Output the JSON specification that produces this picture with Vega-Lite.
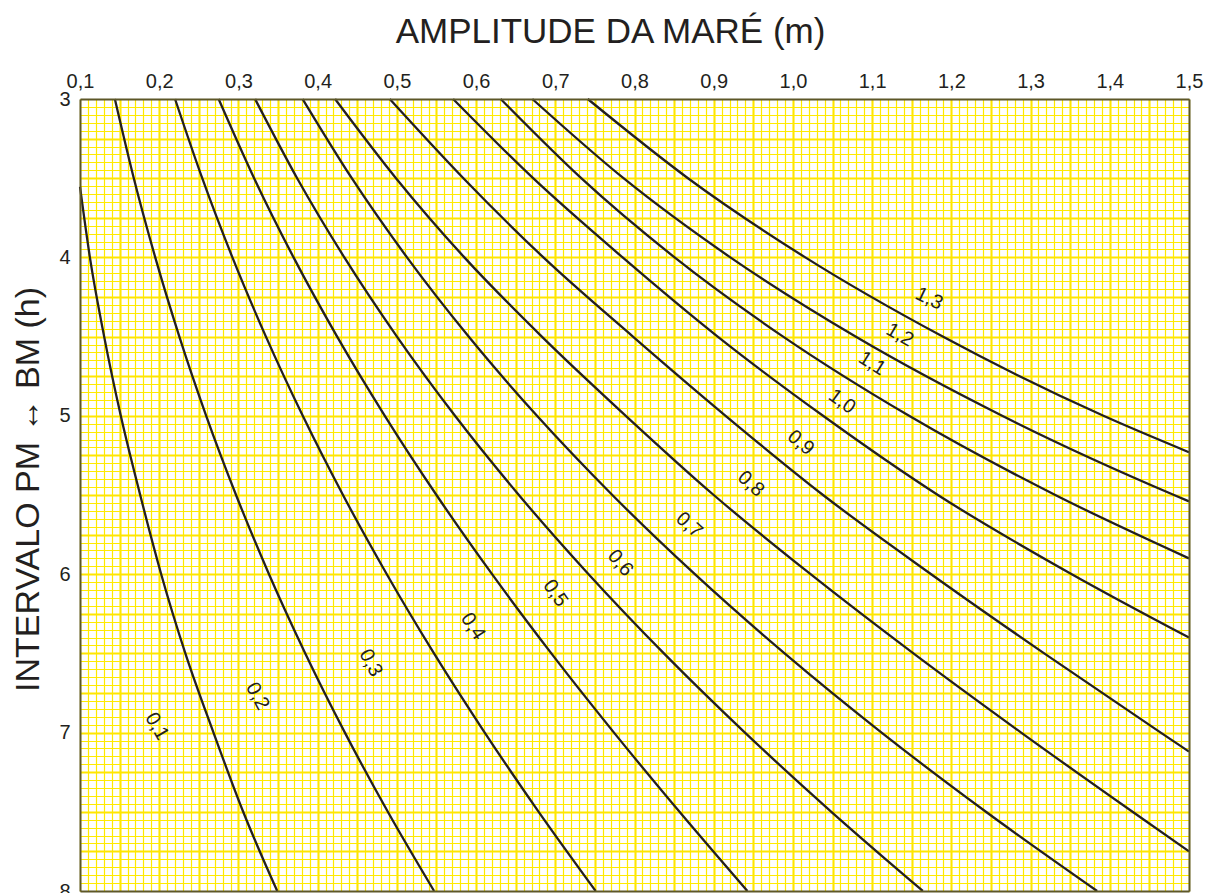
{
  "$schema": "https://vega.github.io/schema/vega-lite/v6.json",
  "width": 1109,
  "height": 792,
  "autosize": {"type": "none"},
  "padding": {"left": 80, "top": 99, "right": 18, "bottom": 2},
  "background": "white",
  "config": {"view": {"stroke": null}, "font": "Liberation Sans"},
  "datasets": {
    "curves": [
      {"curve": "b1", "T": 3.554, "A": 0.100}, {"curve": "b1", "T": 4.0, "A": 0.1125}, {"curve": "b1", "T": 4.5, "A": 0.1305}, {"curve": "b1", "T": 5.0, "A": 0.1515}, {"curve": "b1", "T": 5.5, "A": 0.176}, {"curve": "b1", "T": 6.0, "A": 0.2025}, {"curve": "b1", "T": 6.5, "A": 0.233}, {"curve": "b1", "T": 7.0, "A": 0.2685}, {"curve": "b1", "T": 7.5, "A": 0.306}, {"curve": "b1", "T": 8.0, "A": 0.349},
      {"curve": "b2", "T": 3.0, "A": 0.144}, {"curve": "b2", "T": 3.5, "A": 0.1679}, {"curve": "b2", "T": 4.0, "A": 0.195}, {"curve": "b2", "T": 4.5, "A": 0.2254}, {"curve": "b2", "T": 5.0, "A": 0.2593}, {"curve": "b2", "T": 5.5, "A": 0.297}, {"curve": "b2", "T": 6.0, "A": 0.3386}, {"curve": "b2", "T": 6.5, "A": 0.3844}, {"curve": "b2", "T": 7.0, "A": 0.4344}, {"curve": "b2", "T": 7.5, "A": 0.4886}, {"curve": "b2", "T": 8.0, "A": 0.547},
      {"curve": "b3", "T": 3.0, "A": 0.220}, {"curve": "b3", "T": 3.5, "A": 0.2543}, {"curve": "b3", "T": 4.0, "A": 0.2924}, {"curve": "b3", "T": 4.5, "A": 0.3347}, {"curve": "b3", "T": 5.0, "A": 0.3812}, {"curve": "b3", "T": 5.5, "A": 0.432}, {"curve": "b3", "T": 6.0, "A": 0.4873}, {"curve": "b3", "T": 6.5, "A": 0.5469}, {"curve": "b3", "T": 7.0, "A": 0.6109}, {"curve": "b3", "T": 7.5, "A": 0.679}, {"curve": "b3", "T": 8.0, "A": 0.751},
      {"curve": "b4", "T": 3.0, "A": 0.275}, {"curve": "b4", "T": 3.5, "A": 0.3198}, {"curve": "b4", "T": 4.0, "A": 0.3696}, {"curve": "b4", "T": 4.5, "A": 0.4246}, {"curve": "b4", "T": 5.0, "A": 0.4848}, {"curve": "b4", "T": 5.5, "A": 0.550}, {"curve": "b4", "T": 6.0, "A": 0.6202}, {"curve": "b4", "T": 6.5, "A": 0.695}, {"curve": "b4", "T": 7.0, "A": 0.7741}, {"curve": "b4", "T": 7.5, "A": 0.8568}, {"curve": "b4", "T": 8.0, "A": 0.9425},
      {"curve": "b5", "T": 3.0, "A": 0.321}, {"curve": "b5", "T": 3.5, "A": 0.3741}, {"curve": "b5", "T": 4.0, "A": 0.4337}, {"curve": "b5", "T": 4.5, "A": 0.5001}, {"curve": "b5", "T": 5.0, "A": 0.5734}, {"curve": "b5", "T": 5.5, "A": 0.654}, {"curve": "b5", "T": 6.0, "A": 0.742}, {"curve": "b5", "T": 6.5, "A": 0.8371}, {"curve": "b5", "T": 7.0, "A": 0.9394}, {"curve": "b5", "T": 7.5, "A": 1.0485}, {"curve": "b5", "T": 8.0, "A": 1.164},
      {"curve": "b6", "T": 3.0, "A": 0.381}, {"curve": "b6", "T": 3.5, "A": 0.4431}, {"curve": "b6", "T": 4.0, "A": 0.5128}, {"curve": "b6", "T": 4.5, "A": 0.5906}, {"curve": "b6", "T": 5.0, "A": 0.6769}, {"curve": "b6", "T": 5.5, "A": 0.772}, {"curve": "b6", "T": 6.0, "A": 0.8762}, {"curve": "b6", "T": 6.5, "A": 0.9895}, {"curve": "b6", "T": 7.0, "A": 1.1119}, {"curve": "b6", "T": 7.5, "A": 1.2436}, {"curve": "b6", "T": 8.0, "A": 1.384},
      {"curve": "b7", "T": 3.0, "A": 0.422}, {"curve": "b7", "T": 3.5, "A": 0.4989}, {"curve": "b7", "T": 4.0, "A": 0.5852}, {"curve": "b7", "T": 4.5, "A": 0.683}, {"curve": "b7", "T": 5.0, "A": 0.789}, {"curve": "b7", "T": 5.5, "A": 0.900}, {"curve": "b7", "T": 6.0, "A": 1.0223}, {"curve": "b7", "T": 6.5, "A": 1.1521}, {"curve": "b7", "T": 7.0, "A": 1.2881}, {"curve": "b7", "T": 7.5, "A": 1.4287}, {"curve": "b7", "T": 7.75, "A": 1.5},
      {"curve": "b8", "T": 3.0, "A": 0.491}, {"curve": "b8", "T": 3.5, "A": 0.584}, {"curve": "b8", "T": 4.0, "A": 0.685}, {"curve": "b8", "T": 4.5, "A": 0.798}, {"curve": "b8", "T": 5.0, "A": 0.915}, {"curve": "b8", "T": 5.5, "A": 1.038}, {"curve": "b8", "T": 6.0, "A": 1.1745}, {"curve": "b8", "T": 6.5, "A": 1.3172}, {"curve": "b8", "T": 7.0, "A": 1.4643}, {"curve": "b8", "T": 7.12, "A": 1.5},
      {"curve": "b9", "T": 3.0, "A": 0.571}, {"curve": "b9", "T": 3.5, "A": 0.672}, {"curve": "b9", "T": 4.0, "A": 0.785}, {"curve": "b9", "T": 4.5, "A": 0.905}, {"curve": "b9", "T": 5.0, "A": 1.038}, {"curve": "b9", "T": 5.5, "A": 1.183}, {"curve": "b9", "T": 6.0, "A": 1.352}, {"curve": "b9", "T": 6.4, "A": 1.5},
      {"curve": "b10", "T": 3.0, "A": 0.631}, {"curve": "b10", "T": 3.5, "A": 0.7327}, {"curve": "b10", "T": 4.0, "A": 0.8506}, {"curve": "b10", "T": 4.5, "A": 0.9876}, {"curve": "b10", "T": 5.0, "A": 1.1466}, {"curve": "b10", "T": 5.5, "A": 1.3312}, {"curve": "b10", "T": 5.9, "A": 1.5},
      {"curve": "b11", "T": 3.0, "A": 0.671}, {"curve": "b11", "T": 3.5, "A": 0.7861}, {"curve": "b11", "T": 4.0, "A": 0.921}, {"curve": "b11", "T": 4.5, "A": 1.079}, {"curve": "b11", "T": 5.0, "A": 1.2641}, {"curve": "b11", "T": 5.5, "A": 1.4811}, {"curve": "b11", "T": 5.54, "A": 1.5},
      {"curve": "b12", "T": 3.0, "A": 0.741}, {"curve": "b12", "T": 3.5, "A": 0.8675}, {"curve": "b12", "T": 4.0, "A": 1.0156}, {"curve": "b12", "T": 4.5, "A": 1.1891}, {"curve": "b12", "T": 5.0, "A": 1.392}, {"curve": "b12", "T": 5.23, "A": 1.5}
    ],
    "labels": [
      {"label": "0,1", "A": 0.197, "T": 6.96},
      {"label": "0,2", "A": 0.324, "T": 6.77},
      {"label": "0,3", "A": 0.467, "T": 6.56},
      {"label": "0,4", "A": 0.596, "T": 6.33},
      {"label": "0,5", "A": 0.700, "T": 6.12},
      {"label": "0,6", "A": 0.782, "T": 5.93},
      {"label": "0,7", "A": 0.869, "T": 5.69},
      {"label": "0,8", "A": 0.947, "T": 5.43},
      {"label": "0,9", "A": 1.010, "T": 5.17},
      {"label": "1,0", "A": 1.062, "T": 4.91},
      {"label": "1,1", "A": 1.100, "T": 4.67},
      {"label": "1,2", "A": 1.135, "T": 4.49},
      {"label": "1,3", "A": 1.172, "T": 4.26}
    ]
  },
  "layer": [
    {
      "data": {"name": "curves"},
      "mark": {"type": "line", "opacity": 0},
      "encoding": {
        "x": {"field": "A", "type": "quantitative", "scale": {"domain": [0.1, 1.5], "nice": false, "zero": false},
              "axis": {"orient": "top", "grid": true, "gridColor": "#ffea00", "gridWidth": 1.2, "tickCount": 140, "labels": false, "ticks": false, "domain": false, "title": null}},
        "y": {"field": "T", "type": "quantitative", "scale": {"domain": [3, 8], "nice": false, "zero": false, "reverse": true},
              "axis": {"orient": "left", "grid": true, "gridColor": "#ffea00", "gridWidth": 1.2, "tickCount": 100, "labels": false, "ticks": false, "domain": false, "title": null}},
        "detail": {"field": "curve"}
      }
    },
    {
      "data": {"name": "curves"},
      "mark": {"type": "line", "opacity": 0},
      "encoding": {
        "x": {"field": "A", "type": "quantitative", "scale": {"domain": [0.1, 1.5], "nice": false, "zero": false},
              "axis": {"orient": "top", "grid": true, "gridColor": "#ffe600", "gridWidth": 2, "values": [0.15,0.2,0.25,0.3,0.35,0.4,0.45,0.5,0.55,0.6,0.65,0.7,0.75,0.8,0.85,0.9,0.95,1.0,1.05,1.1,1.15,1.2,1.25,1.3,1.35,1.4,1.45], "labels": false, "ticks": false, "domain": false, "title": null}},
        "y": {"field": "T", "type": "quantitative", "scale": {"domain": [3, 8], "nice": false, "zero": false, "reverse": true},
              "axis": {"orient": "left", "grid": true, "gridColor": "#ffe600", "gridWidth": 2, "values": [3.25,3.5,3.75,4,4.25,4.5,4.75,5,5.25,5.5,5.75,6,6.25,6.5,6.75,7,7.25,7.5,7.75], "labels": false, "ticks": false, "domain": false, "title": null}},
        "detail": {"field": "curve"}
      }
    },
    {
      "data": {"name": "curves"},
      "mark": {"type": "line", "interpolate": "monotone", "stroke": "#231f20", "strokeWidth": 2.3},
      "encoding": {
        "x": {"field": "A", "type": "quantitative", "scale": {"domain": [0.1, 1.5], "nice": false, "zero": false},
              "axis": {"orient": "top", "values": [0.1,0.2,0.3,0.4,0.5,0.6,0.7,0.8,0.9,1.0,1.1,1.2,1.3,1.4,1.5],
                       "labelExpr": "replace(format(datum.value, '.1f'), '.', ',')", "labelFlush": false, "labelOverlap": false,
                       "labelFontSize": 20, "labelColor": "#231f20", "labelPadding": 8, "labelFont": "Liberation Sans",
                       "ticks": false, "grid": false, "domain": true, "domainColor": "#5d5728", "domainWidth": 2, "zindex": 1,
                       "title": "AMPLITUDE DA MARÉ (m)", "titleFont": "Liberation Sans", "titleFontSize": 35, "titleFontWeight": "normal", "titleColor": "#231f20",
                       "titleX": 530, "titleY": -57, "titleAlign": "center", "titleBaseline": "alphabetic", "titleAnchor": null}},
        "y": {"field": "T", "type": "quantitative", "scale": {"domain": [3, 8], "nice": false, "zero": false, "reverse": true},
              "axis": {"orient": "left", "values": [3,4,5,6,7,8], "format": "d", "labelFlush": false, "labelOverlap": false,
                       "labelFontSize": 20, "labelColor": "#231f20", "labelPadding": 10, "labelFont": "Liberation Sans",
                       "ticks": false, "grid": false, "domain": true, "domainColor": "#5d5728", "domainWidth": 2, "zindex": 1,
                       "title": "INTERVALO PM ↔ BM (h)", "titleFont": "Liberation Sans", "titleFontSize": 34, "titleFontWeight": "normal", "titleColor": "#231f20",
                       "titleAngle": -90, "titleX": -42, "titleY": 390, "titleAlign": "center", "titleBaseline": "alphabetic", "titleAnchor": null}},
        "detail": {"field": "curve"},
        "order": {"field": "T", "type": "quantitative"}
      }
    },
    {
      "data": {"name": "labels"},
      "transform": [{"filter": "datum.label === '0,1'"}],
      "mark": {"type": "text", "angle": 60, "fontSize": 20, "font": "Liberation Sans", "color": "#231f20", "align": "center", "baseline": "middle"},
      "encoding": {
        "x": {"field": "A", "type": "quantitative", "scale": {"domain": [0.1, 1.5], "nice": false, "zero": false},
              "axis": {"orient": "bottom", "labels": false, "ticks": false, "grid": false, "domain": true, "domainColor": "#5d5728", "domainWidth": 2, "zindex": 1, "title": null}},
        "y": {"field": "T", "type": "quantitative", "scale": {"domain": [3, 8], "nice": false, "zero": false, "reverse": true},
              "axis": {"orient": "right", "labels": false, "ticks": false, "grid": false, "domain": true, "domainColor": "#5d5728", "domainWidth": 2, "zindex": 1, "title": null}},
        "text": {"field": "label"}
      }
    },
    {"data": {"name": "labels"}, "transform": [{"filter": "datum.label === '0,2'"}], "mark": {"type": "text", "angle": 62, "fontSize": 20, "font": "Liberation Sans", "color": "#231f20", "align": "center", "baseline": "middle"}, "encoding": {"x": {"field": "A", "type": "quantitative", "axis": null}, "y": {"field": "T", "type": "quantitative", "axis": null}, "text": {"field": "label"}}},
    {"data": {"name": "labels"}, "transform": [{"filter": "datum.label === '0,3'"}], "mark": {"type": "text", "angle": 63, "fontSize": 20, "font": "Liberation Sans", "color": "#231f20", "align": "center", "baseline": "middle"}, "encoding": {"x": {"field": "A", "type": "quantitative", "axis": null}, "y": {"field": "T", "type": "quantitative", "axis": null}, "text": {"field": "label"}}},
    {"data": {"name": "labels"}, "transform": [{"filter": "datum.label === '0,4'"}], "mark": {"type": "text", "angle": 57, "fontSize": 20, "font": "Liberation Sans", "color": "#231f20", "align": "center", "baseline": "middle"}, "encoding": {"x": {"field": "A", "type": "quantitative", "axis": null}, "y": {"field": "T", "type": "quantitative", "axis": null}, "text": {"field": "label"}}},
    {"data": {"name": "labels"}, "transform": [{"filter": "datum.label === '0,5'"}], "mark": {"type": "text", "angle": 55, "fontSize": 20, "font": "Liberation Sans", "color": "#231f20", "align": "center", "baseline": "middle"}, "encoding": {"x": {"field": "A", "type": "quantitative", "axis": null}, "y": {"field": "T", "type": "quantitative", "axis": null}, "text": {"field": "label"}}},
    {"data": {"name": "labels"}, "transform": [{"filter": "datum.label === '0,6'"}], "mark": {"type": "text", "angle": 50, "fontSize": 20, "font": "Liberation Sans", "color": "#231f20", "align": "center", "baseline": "middle"}, "encoding": {"x": {"field": "A", "type": "quantitative", "axis": null}, "y": {"field": "T", "type": "quantitative", "axis": null}, "text": {"field": "label"}}},
    {"data": {"name": "labels"}, "transform": [{"filter": "datum.label === '0,7'"}], "mark": {"type": "text", "angle": 42, "fontSize": 20, "font": "Liberation Sans", "color": "#231f20", "align": "center", "baseline": "middle"}, "encoding": {"x": {"field": "A", "type": "quantitative", "axis": null}, "y": {"field": "T", "type": "quantitative", "axis": null}, "text": {"field": "label"}}},
    {"data": {"name": "labels"}, "transform": [{"filter": "datum.label === '0,8'"}], "mark": {"type": "text", "angle": 42, "fontSize": 20, "font": "Liberation Sans", "color": "#231f20", "align": "center", "baseline": "middle"}, "encoding": {"x": {"field": "A", "type": "quantitative", "axis": null}, "y": {"field": "T", "type": "quantitative", "axis": null}, "text": {"field": "label"}}},
    {"data": {"name": "labels"}, "transform": [{"filter": "datum.label === '0,9'"}], "mark": {"type": "text", "angle": 40, "fontSize": 20, "font": "Liberation Sans", "color": "#231f20", "align": "center", "baseline": "middle"}, "encoding": {"x": {"field": "A", "type": "quantitative", "axis": null}, "y": {"field": "T", "type": "quantitative", "axis": null}, "text": {"field": "label"}}},
    {"data": {"name": "labels"}, "transform": [{"filter": "datum.label === '1,0'"}], "mark": {"type": "text", "angle": 36, "fontSize": 20, "font": "Liberation Sans", "color": "#231f20", "align": "center", "baseline": "middle"}, "encoding": {"x": {"field": "A", "type": "quantitative", "axis": null}, "y": {"field": "T", "type": "quantitative", "axis": null}, "text": {"field": "label"}}},
    {"data": {"name": "labels"}, "transform": [{"filter": "datum.label === '1,1'"}], "mark": {"type": "text", "angle": 32, "fontSize": 20, "font": "Liberation Sans", "color": "#231f20", "align": "center", "baseline": "middle"}, "encoding": {"x": {"field": "A", "type": "quantitative", "axis": null}, "y": {"field": "T", "type": "quantitative", "axis": null}, "text": {"field": "label"}}},
    {"data": {"name": "labels"}, "transform": [{"filter": "datum.label === '1,2'"}], "mark": {"type": "text", "angle": 30, "fontSize": 20, "font": "Liberation Sans", "color": "#231f20", "align": "center", "baseline": "middle"}, "encoding": {"x": {"field": "A", "type": "quantitative", "axis": null}, "y": {"field": "T", "type": "quantitative", "axis": null}, "text": {"field": "label"}}},
    {"data": {"name": "labels"}, "transform": [{"filter": "datum.label === '1,3'"}], "mark": {"type": "text", "angle": 26, "fontSize": 20, "font": "Liberation Sans", "color": "#231f20", "align": "center", "baseline": "middle"}, "encoding": {"x": {"field": "A", "type": "quantitative", "axis": null}, "y": {"field": "T", "type": "quantitative", "axis": null}, "text": {"field": "label"}}}
  ],
  "resolve": {"axis": {"x": "independent", "y": "independent"}}
}
